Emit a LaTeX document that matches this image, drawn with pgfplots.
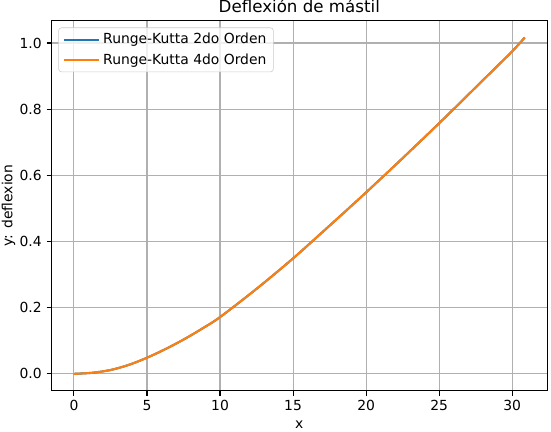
\documentclass[border=0pt]{standalone}
\usepackage{pgfplots}
\pgfplotsset{compat=1.18}
\usepackage{fontspec}
\setmainfont{DejaVu Sans}
\definecolor{tabblue}{HTML}{1F77B4}
\definecolor{taborange}{HTML}{FF7F0E}
\definecolor{gridgray}{HTML}{B0B0B0}

\pgfplotstableread{
x y
0 0
1.25 0.0032
2.5 0.0115
3.75 0.027
5 0.0487
6.25 0.0745
7.5 0.1035
8.75 0.136
10 0.1715
12.5 0.257
15 0.349
17.5 0.448
20 0.5485
22.5 0.652
25 0.7576
27.5 0.866
30 0.975
30.86 1.017
}\rkdos
\pgfplotstableread{
x y
0 0
1.25 0.0032
2.5 0.0115
3.75 0.027
5 0.0487
6.25 0.0745
7.5 0.1035
8.75 0.136
10 0.1715
12.5 0.257
15 0.349
17.5 0.448
20 0.5485
22.5 0.652
25 0.7576
27.5 0.866
30 0.975
30.86 1.017
}\rkcuatro

\begin{document}
\begin{tikzpicture}
\path[use as bounding box] (-37pt,-29.7pt) rectangle (359.7pt,281.3pt);
\begin{axis}[
    scale only axis,
    width=357pt, height=266.5pt,
    xmin=-1.543, xmax=32.40,
    ymin=-0.051, ymax=1.068,
    xtick={0,5,10,15,20,25,30},
    ytick={0,0.2,0.4,0.6,0.8,1.0},
    yticklabel style={/pgf/number format/.cd, fixed, fixed zerofill, precision=1},
    /pgf/number format/assume math mode=true,
    tick align=outside,
    major tick length=3.5pt,
    tick style={black, line width=0.8pt},
    axis line style={line width=0.8pt},
    xtick pos=bottom, ytick pos=left,
    grid=major,
    major grid style={gridgray, line width=0.8pt},
    tick label style={font=\fontsize{10}{12}\selectfont},
    title={Deflexión de mástil},
    title style={at={(axis description cs:0.5,1)}, anchor=base, font=\fontsize{12}{14}\selectfont},
    xlabel={x},
    xlabel style={at={(axis description cs:0.5,0)}, anchor=center, yshift=-24.5pt, font=\fontsize{10}{12}\selectfont},
    ylabel={y: deflexion},
    ylabel style={at={(axis description cs:0,0.5)}, anchor=south, yshift=22.5pt, font=\fontsize{10}{12}\selectfont},
    legend style={at={(axis description cs:0,1)}, anchor=north west, xshift=5pt, yshift=-5pt,
        draw=gray!40, rounded corners=2pt, fill=white, fill opacity=0.8, text opacity=1,
        font=\fontsize{10}{12}\selectfont, inner xsep=3pt, inner ysep=2pt, row sep=1.5pt},
    legend cell align=left,
    legend image code/.code={\draw[#1, line width=1.5pt] (0cm,0cm) -- (0.75cm,0cm);
        \path (0.75cm,0cm) -- (0.9cm,0cm);},
]
\addplot[tabblue, line width=1.5pt, smooth] table {\rkdos};
\addlegendentry{Runge-Kutta 2do Orden}
\addplot[taborange, line width=1.5pt, smooth] table {\rkcuatro};
\addlegendentry{Runge-Kutta 4do Orden}
\end{axis}
\end{tikzpicture}
\end{document}
